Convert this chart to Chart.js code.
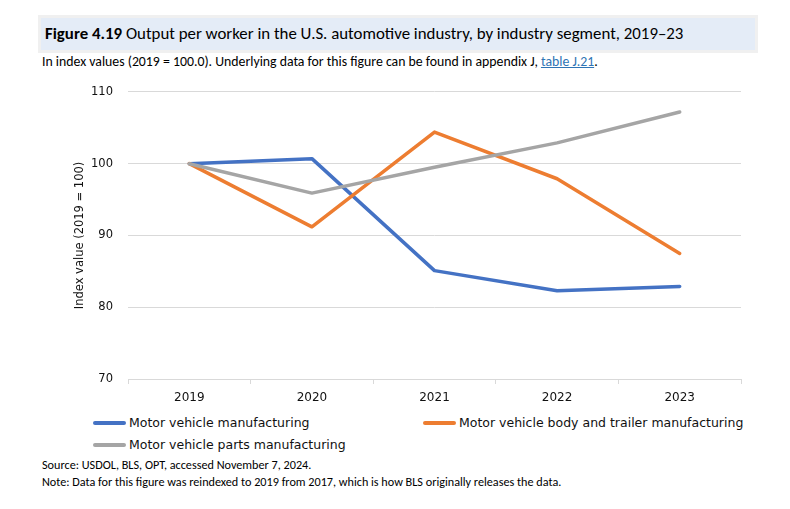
<!DOCTYPE html>
<html>
<head>
<meta charset="utf-8">
<script src="https://cdn.jsdelivr.net/npm/chart.js@4.4.1/dist/chart.umd.min.js"></script>
<style>
  html, body { margin: 0; padding: 0; background: #fff; }
  #wrap { position: relative; width: 790px; height: 509px; overflow: hidden; font-family: Carlito, Lato, sans-serif; color: #000; }
  #titlebox { position: absolute; left: 38px; top: 15px; width: 714px; height: 32px; background: #e4ecf7; border: 3px solid #f0f0f0; }
  #title { position: absolute; left: 4px; top: 5px; font-size: 16.85px; white-space: nowrap; }
  #subtitle { position: absolute; left: 42px; top: 53px; font-size: 13.8px; white-space: nowrap; }
  #subtitle a { color: #2e74b5; text-decoration: underline; }
  #chartbox { position: absolute; left: 0; top: 70px; width: 790px; height: 340px; }
  .leg { position: absolute; font-family: "DejaVu Sans", sans-serif; font-size: 12.5px; white-space: nowrap; line-height: 16px; color: #111; }
  .leg span.swatch { display: inline-block; width: 33px; height: 4px; border-radius: 2px; vertical-align: middle; margin-right: 3px; position: relative; top: -1px; }
  .foot { position: absolute; left: 42px; font-size: 12.2px; white-space: nowrap; }
</style>
</head>
<body>
<div id="wrap">
  <div id="titlebox"><div id="title"><b>Figure 4.19</b> Output per worker in the U.S. automotive industry, by industry segment, 2019–23</div></div>
  <div id="subtitle">In index values (2019 = 100.0). Underlying data for this figure can be found in appendix J, <a>table J.21</a>.</div>
  <div id="chartbox"><canvas id="myChart"></canvas></div>
  <div id="legend"></div>
  <div class="foot" style="top:457px">Source: USDOL, BLS, OPT, accessed November 7, 2024.</div>
  <div class="foot" style="top:474px">Note: Data for this figure was reindexed to 2019 from 2017, which is how BLS originally releases the data.</div>
</div>
<script>
var years = ['2019', '2020', '2021', '2022', '2023'];
var vehicleMfg = [100, 100.7, 85.1, 82.3, 82.9];
var bodyTrailerMfg = [100, 91.2, 104.4, 97.9, 87.5];
var partsMfg = [100, 95.9, 99.5, 102.9, 107.2];
var seriesNames = ['Motor vehicle manufacturing', 'Motor vehicle body and trailer manufacturing', 'Motor vehicle parts manufacturing'];
var seriesColors = ['#4472c4', '#ed7d31', '#a5a5a5'];
var yTicks = [70, 80, 90, 100, 110];

var seriesData = [vehicleMfg, bodyTrailerMfg, partsMfg];
var datasets = seriesData.map(function (d, i) {
    return {
        label: seriesNames[i],
        data: d,
        borderColor: seriesColors[i],
        backgroundColor: seriesColors[i],
        borderWidth: 3.5,
        pointRadius: 0,
        tension: 0,
        borderCapStyle: 'round',
        borderJoinStyle: 'round',
        order: 2 - i
    };
});

var ctx = document.getElementById('myChart');
var myChart = new Chart(ctx, {
    type: 'line',
    data: { labels: years, datasets: datasets },
    options: {
        responsive: true,
        maintainAspectRatio: false,
        animation: false,
        layout: { padding: { left: 0, right: 49, top: 19.3, bottom: 0 } },
        plugins: { legend: { display: false }, tooltip: { enabled: false } },
        scales: {
            x: {
                offset: true,
                grid: { offset: true, drawOnChartArea: false, drawTicks: true, tickLength: 5, color: '#d9d9d9' },
                border: { color: '#d9d9d9' },
                ticks: { padding: 7, color: '#111', font: { family: 'DejaVu Sans', size: 12 } },
                afterFit: function (s) { s.height = 31; }
            },
            y: {
                min: 70,
                max: 110,
                afterBuildTicks: function (s) { s.ticks = yTicks.map(function (v) { return { value: v }; }); },
                grid: { color: '#d9d9d9', drawTicks: false },
                border: { display: false },
                ticks: { padding: 15, color: '#111', font: { family: 'DejaVu Sans', size: 11.5 } },
                title: { display: true, text: 'Index value (2019 = 100)', color: '#111', padding: { top: 73, bottom: 0 }, font: { family: 'DejaVu Sans', size: 11.5 } },
                afterFit: function (s) { s.width = 128; }
            }
        }
    }
});

// legend laid out in two columns like the original
var legPos = [[93, 415], [423, 415], [93, 437]];
var legend = document.getElementById('legend');
seriesNames.forEach(function (name, i) {
    var el = document.createElement('div');
    el.className = 'leg';
    el.style.left = legPos[i][0] + 'px';
    el.style.top = legPos[i][1] + 'px';
    el.innerHTML = '<span class="swatch" style="background:' + seriesColors[i] + '"></span>' + name;
    legend.appendChild(el);
});
</script>
</body>
</html>
